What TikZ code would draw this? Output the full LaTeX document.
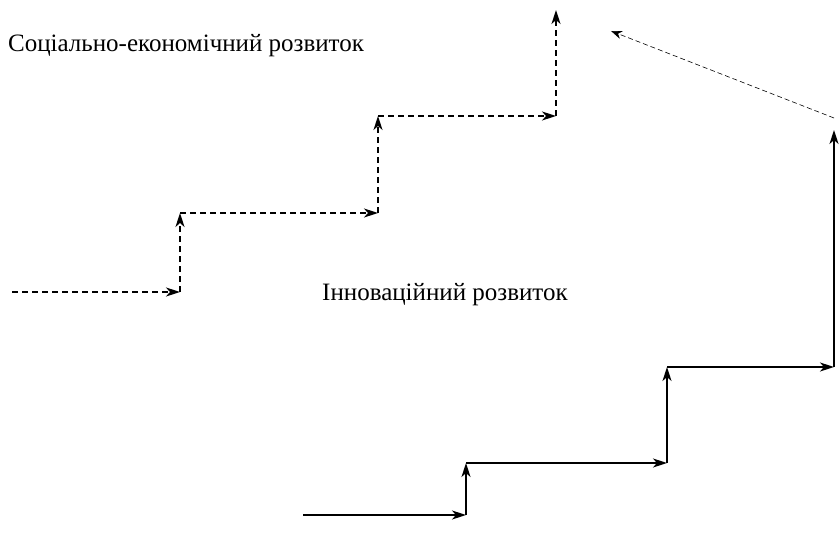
\documentclass[tikz,border=0pt]{standalone}
\usepackage{fontspec}
\setmainfont{Liberation Serif}
\usetikzlibrary{arrows.meta}
\begin{document}
\begin{tikzpicture}[x=1pt,y=-1pt,
  stair/.style={line width=1.7pt,-{Stealth[length=14pt,width=9pt,inset=4pt]}},
  dstair/.style={stair,dash pattern=on 6pt off 4pt},
  trend/.style={line width=0.6pt,dash pattern=on 5pt off 3pt,-{Stealth[length=11pt,width=8pt,inset=3.5pt]}},
  lbl/.style={font=\fontsize{25}{29}\selectfont,inner sep=0pt}]
\useasboundingbox (0,0) rectangle (840,548);
% socio-economic path (dashed)
\coordinate (d0) at (12,292);
\coordinate (d1) at (180,292);
\coordinate (d2) at (180,213);
\coordinate (d3) at (378,213);
\coordinate (d4) at (378,116);
\coordinate (d5) at (556,116);
\coordinate (d6) at (556,10);
\draw[dstair] (d0) -- (d1);
\draw[dstair] (d1) -- (d2);
\draw[dstair] (d2) -- (d3);
\draw[dstair] (d3) -- (d4);
\draw[dstair] (d4) -- (d5);
\draw[dstair] (d5) -- (d6);
% innovative path (solid)
\coordinate (s0) at (303,515);
\coordinate (s1) at (466,515);
\coordinate (s2) at (466,463);
\coordinate (s3) at (667,463);
\coordinate (s4) at (667,367);
\coordinate (s5) at (834,367);
\coordinate (s6) at (834,130);
\draw[stair] (s0) -- (s1);
\draw[stair] (s1) -- (s2);
\draw[stair] (s2) -- (s3);
\draw[stair] (s3) -- (s4);
\draw[stair] (s4) -- (s5);
\draw[stair] (s5) -- (s6);
% convergence trend
\coordinate (t0) at (834,118);
\coordinate (t1) at (611,31);
\draw[trend] (t0) -- (t1);
% labels
\node[lbl,anchor=base west] (se) at (8,52) {Соціально-економічний розвиток};
\node[lbl,anchor=base west] (in) at (322,300) {Інноваційний розвиток};
\end{tikzpicture}
\end{document}
